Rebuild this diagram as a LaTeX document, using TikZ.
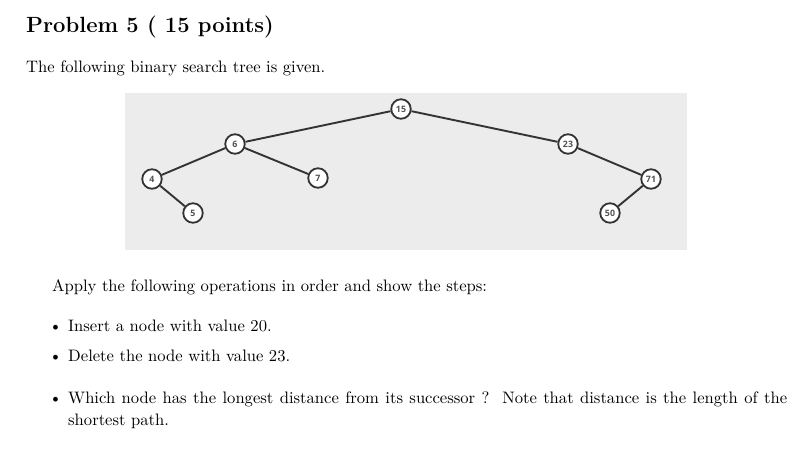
\documentclass[tikz,border=0pt]{standalone}
\usepackage{fontspec}
\newfontfamily\nodefont{Open Sans}
\definecolor{boxgray}{HTML}{ECECEC}
\definecolor{edgegray}{HTML}{333333}
\newcommand{\bodytext}[1]{\scalebox{1.66}{\fontsize{10}{12}\selectfont #1}}
\begin{document}
\begin{tikzpicture}[x=1pt,y=-1pt,
  bstnode/.style={circle,draw=edgegray,fill=white,line width=1.8pt,minimum size=19.5pt,inner sep=0pt,
    font=\nodefont\bfseries\fontsize{8.8}{10}\selectfont,text=edgegray!85},
  edge/.style={draw=edgegray,line width=1.9pt},
  body/.style={anchor=base west,inner sep=0pt},
  title/.style={anchor=base west,inner sep=0pt,font=\bfseries\fontsize{22}{26}\selectfont}]
\useasboundingbox (0,0) rectangle (808,455);
\fill[boxgray] (125,93) rectangle (687,250);
\node[title] (t) at (26,32) {Problem 5 ( 15 points)};
\node[body] (p1) at (26,72) {\bodytext{The following binary search tree is given.}};
\node[bstnode] (n15) at (401,109) {15};
\node[bstnode] (n6) at (235,144) {6};
\node[bstnode] (n4) at (152,179) {4};
\node[bstnode] (n5) at (193,213) {5};
\node[bstnode] (n7) at (318,178) {7};
\node[bstnode] (n23) at (568,144) {23};
\node[bstnode] (n71) at (651,179) {71};
\node[bstnode] (n50) at (610,213) {50};
\draw[edge] (n15) -- (n6);
\draw[edge] (n6) -- (n4);
\draw[edge] (n4) -- (n5);
\draw[edge] (n6) -- (n7);
\draw[edge] (n15) -- (n23);
\draw[edge] (n23) -- (n71);
\draw[edge] (n71) -- (n50);
\node[body] (p2) at (52,291) {\bodytext{Apply the following operations in order and show the steps:}};
\node[body] (b1) at (49,331) {\bodytext{\textbullet}};
\node[body] (l1) at (68,331) {\bodytext{Insert a node with value 20.}};
\node[body] (b2) at (49,361) {\bodytext{\textbullet}};
\node[body] (l2) at (68,361) {\bodytext{Delete the node with value 23.}};
\node[body] (b3) at (49,403) {\bodytext{\textbullet}};
\node[body] (l3) at (68,403) {\bodytext{\makebox[433.1pt][s]{Which node has the longest distance from its successor ?\ \ Note that distance is the length of the}}};
\node[body] (l4) at (68,425) {\bodytext{shortest path.}};
\end{tikzpicture}
\end{document}
